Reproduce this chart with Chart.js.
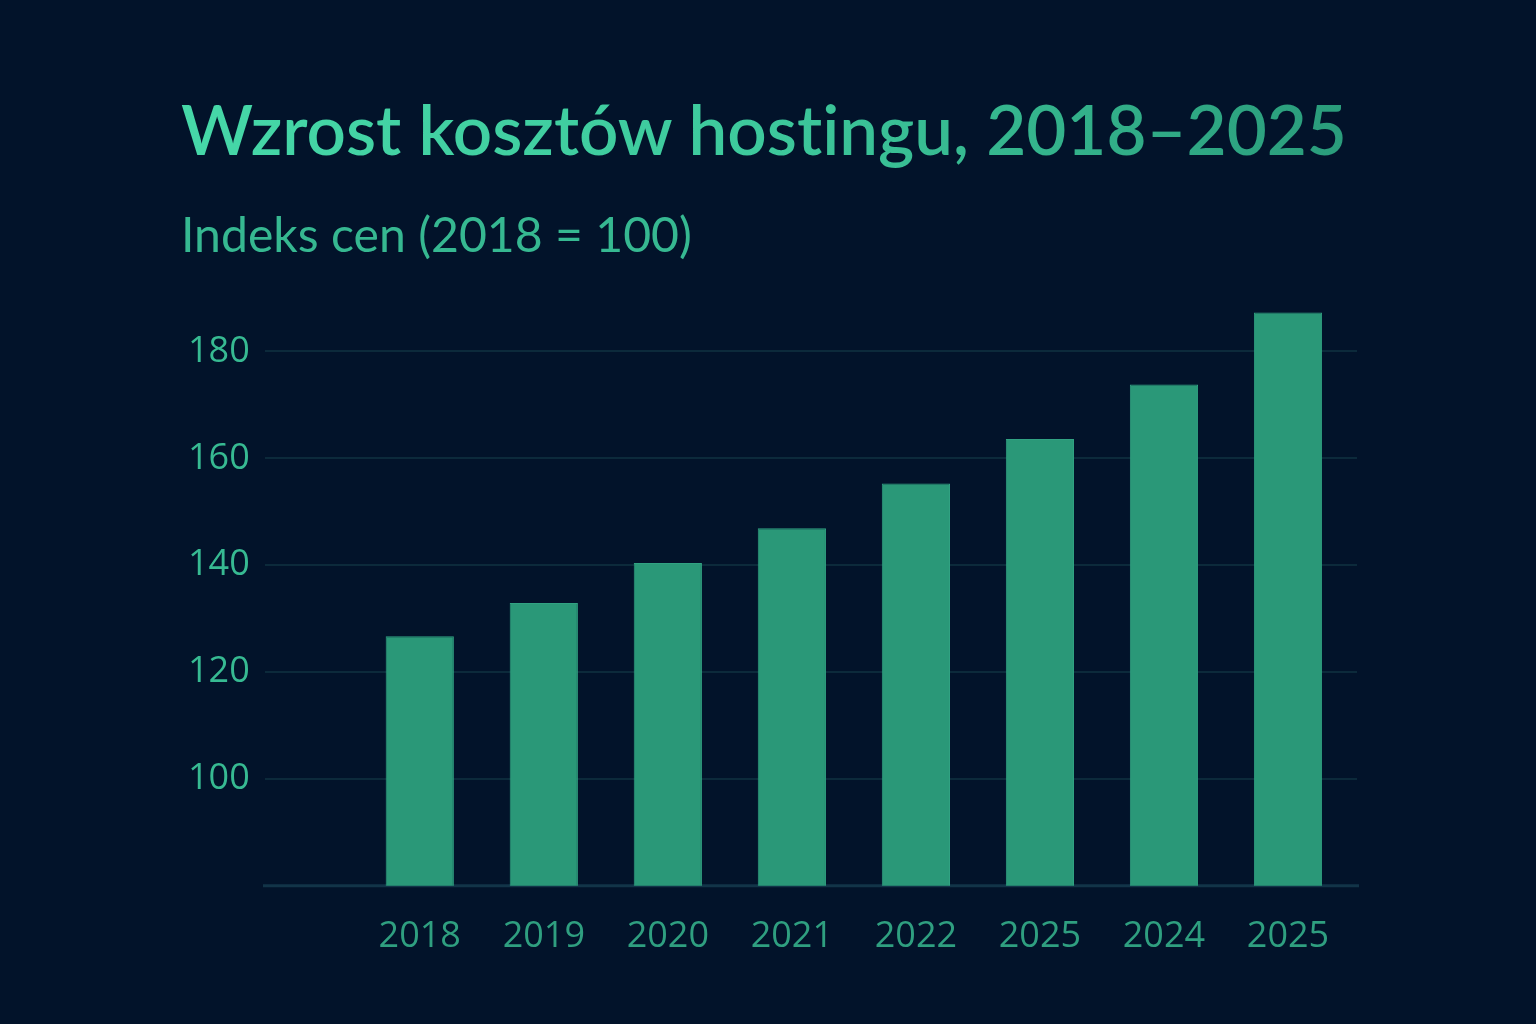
<!DOCTYPE html>
<html>
<head>
<meta charset="utf-8">
<script src="https://cdn.jsdelivr.net/npm/chart.js@4"></script>
<style>
  html, body { margin: 0; padding: 0; background: #02132a; }
  body { width: 1536px; height: 1024px; position: relative; overflow: hidden; font-family: Lato, sans-serif; }
  #title {
    position: absolute; left: 181px; top: 84px; margin: 0; line-height: 1.3;
    font-size: 74px; font-weight: 600; white-space: nowrap;
    font-variant-ligatures: none; font-feature-settings: "liga" 0;
    background: linear-gradient(90deg, #46d8a8 0%, #3dc99c 50%, #2a9c7b 100%);
    -webkit-background-clip: text; background-clip: text; color: transparent;
  }
  #subtitle {
    position: absolute; left: 181px; top: 209px; margin: 0; line-height: 1;
    font-size: 48px; font-weight: 400; color: #36b891; white-space: nowrap;
  }
  #wrap { position: absolute; left: 0; top: 0; width: 1536px; height: 1024px; }
</style>
</head>
<body>
<h1 id="title">Wzrost kosztów hostingu, 2018–2025</h1>
<p id="subtitle">Indeks cen (2018 = 100)</p>
<div id="wrap"><canvas id="costChart"></canvas></div>
<script>
const years = ['2018', '2019', '2020', '2021', '2022', '2025', '2024', '2025'];
const priceIndex = [126.7, 132.9, 140.4, 146.9, 155.3, 163.6, 173.8, 187.3];
const yTicks = [100, 120, 140, 160, 180];

// squeeze heading text to the width it takes in the original
function fitWidth(id, target) {
    const el = document.getElementById(id);
    const size = parseFloat(getComputedStyle(el).fontSize);
    el.style.fontSize = (size * target / el.getBoundingClientRect().width) + 'px';
}
fitWidth('title', 1166);
fitWidth('subtitle', 511);

// grid lines run wider than the bars, so draw them ourselves from the y scale
const wideGrid = {
    id: 'wideGrid',
    beforeDatasetsDraw(chart) {
        const ctx = chart.ctx;
        const y = chart.scales.y;
        const left = 265, right = 1357;
        ctx.save();
        ctx.strokeStyle = '#0c2a3b';
        ctx.lineWidth = 2;
        yTicks.forEach(function (v) {
            const py = Math.round(y.getPixelForValue(v));
            ctx.beginPath();
            ctx.moveTo(left, py);
            ctx.lineTo(right, py);
            ctx.stroke();
        });
        const base = y.getPixelForValue(y.min);
        ctx.strokeStyle = '#123448';
        ctx.lineWidth = 3;
        ctx.beginPath();
        ctx.moveTo(263, base);
        ctx.lineTo(1359, base);
        ctx.stroke();
        ctx.restore();
    }
};

const ctx = document.getElementById('costChart').getContext('2d');
const costChart = new Chart(ctx, {
    type: 'bar',
    data: {
        labels: years,
        datasets: [{
            data: priceIndex,
            backgroundColor: '#2a9878',
            borderColor: '#31a282',
            borderWidth: 1,
            categoryPercentage: 1,
            barPercentage: 0.55
        }]
    },
    options: {
        responsive: true,
        maintainAspectRatio: false,
        animation: false,
        layout: { padding: { top: 298, left: 80, right: 186, bottom: 37 } },
        plugins: { legend: { display: false }, tooltip: { enabled: false } },
        scales: {
            x: {
                grid: { display: false, drawTicks: false },
                border: { display: false },
                ticks: {
                    color: '#2f9f80',
                    font: { family: 'Open Sans', size: 36 },
                    padding: 29,
                    maxRotation: 0
                }
            },
            y: {
                min: 80,
                max: 190,
                afterBuildTicks: function (scale) {
                    scale.ticks = yTicks.map(function (v) { return { value: v }; });
                },
                grid: { display: false, drawTicks: false },
                border: { display: false },
                ticks: {
                    color: '#37ba92',
                    font: { family: 'Open Sans', size: 36 },
                    padding: 108
                }
            }
        }
    },
    plugins: [wideGrid]
});
</script>
</body>
</html>
